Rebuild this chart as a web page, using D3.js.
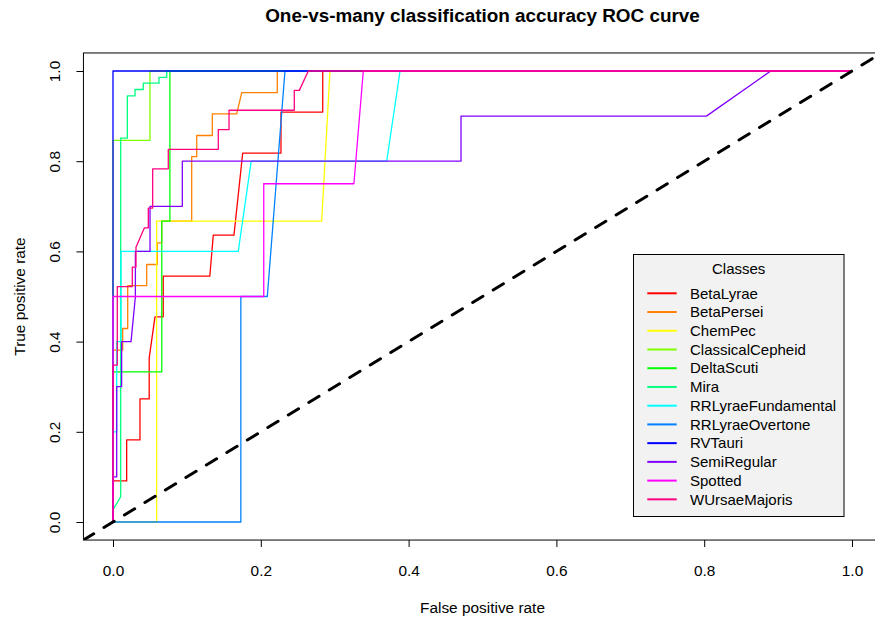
<!DOCTYPE html>
<html>
<head>
<meta charset="utf-8">
<script src="https://cdn.jsdelivr.net/npm/d3@7/dist/d3.min.js"></script>
<style>
  html, body { margin: 0; padding: 0; background: #fff; }
  svg { display: block; font-family: "Liberation Sans", Arial, sans-serif; }
</style>
</head>
<body>
<svg id="chart" width="875" height="618"></svg>
<script>
// Class names and their rainbow colours
const classNames = ["BetaLyrae", "BetaPersei", "ChemPec", "ClassicalCepheid", "DeltaScuti", "Mira",
  "RRLyraeFundamental", "RRLyraeOvertone", "RVTauri", "SemiRegular", "Spotted", "WUrsaeMajoris"];
const classColors = ["#FF0000", "#FF8000", "#FFFF00", "#80FF00", "#00FF00", "#00FF80",
  "#00FFFF", "#0080FF", "#0000FF", "#8000FF", "#FF00FF", "#FF0080"];

// ROC curve points (false positive rate, true positive rate) per class
const betaLyraeFpr = [0, 0, 0.0185, 0.0185, 0.0365, 0.0365, 0.049, 0.049, 0.0568, 0.068, 0.068, 0.131, 0.1357, 0.1637, 0.1755, 0.2273, 0.2273, 0.2838, 0.2838, 1];
const betaLyraeTpr = [0, 0.091, 0.091, 0.182, 0.182, 0.273, 0.273, 0.364, 0.455, 0.455, 0.545, 0.545, 0.636, 0.636, 0.818, 0.818, 0.909, 0.909, 1, 1];

const betaPerseiFpr = [0, 0, 0.0131, 0.0131, 0.0199, 0.0199, 0.0456, 0.0456, 0.0599, 0.0599, 0.0659, 0.0659, 0.1065, 0.1065, 0.1133, 0.1133, 0.1344, 0.1344, 0.1674, 0.1742, 0.2223, 0.2223, 1];
const betaPerseiTpr = [0, 0.381, 0.381, 0.429, 0.429, 0.524, 0.524, 0.571, 0.571, 0.619, 0.619, 0.667, 0.667, 0.81, 0.81, 0.857, 0.857, 0.905, 0.905, 0.952, 0.952, 1, 1];

const chemPecFpr = [0, 0.059, 0.059, 0.2824, 0.2936, 1];
const chemPecTpr = [0, 0, 0.667, 0.667, 1, 1];

const classicalCepheidFpr = [0, 0, 0.05, 0.05, 1];
const classicalCepheidTpr = [0, 0.846, 0.846, 1, 1];

const deltaScutiFpr = [0, 0, 0.066, 0.066, 0.077, 0.077, 1];
const deltaScutiTpr = [0, 0.333, 0.333, 0.667, 0.667, 1, 1];

const miraFpr = [0, 0, 0.0104, 0.0104, 0.0194, 0.0194, 0.0298, 0.0298, 0.041, 0.041, 0.0622, 0.0622, 0.0727, 0.0727, 1];
const miraTpr = [0, 0.027, 0.056, 0.851, 0.851, 0.945, 0.945, 0.959, 0.959, 0.973, 0.973, 0.986, 0.986, 1, 1];

const rrLyraeFundamentalFpr = [0, 0, 0.005, 0.005, 0.0108, 0.0108, 0.1695, 0.187, 0.3704, 0.3884, 1];
const rrLyraeFundamentalTpr = [0, 0.2, 0.2, 0.4, 0.4, 0.6, 0.6, 0.8, 0.8, 1, 1];

const rrLyraeOvertoneFpr = [0, 0.173, 0.173, 0.2088, 0.2327, 1];
const rrLyraeOvertoneTpr = [0, 0, 0.5, 0.5, 1, 1];

const rvTauriFpr = [0, 0, 1];
const rvTauriTpr = [0, 1, 1];

const semiRegularFpr = [0, 0, 0.005, 0.005, 0.0117, 0.0117, 0.0244, 0.0303, 0.0303, 0.0501, 0.0501, 0.0938, 0.0938, 0.4709, 0.4709, 0.803, 0.89, 1];
const semiRegularTpr = [0, 0.1, 0.1, 0.3, 0.3, 0.4, 0.4, 0.5, 0.6, 0.6, 0.7, 0.7, 0.8, 0.8, 0.9, 0.9, 1, 1];

const spottedFpr = [0, 0, 0.204, 0.204, 0.326, 0.3387, 1];
const spottedTpr = [0, 0.5, 0.5, 0.75, 0.75, 1, 1];

const wUrsaeMajorisFpr = [0, 0, 0.0058, 0.0058, 0.0261, 0.0261, 0.0311, 0.0311, 0.0424, 0.0478, 0.0478, 0.0537, 0.0537, 0.0748, 0.0748, 0.1425, 0.1425, 0.157, 0.157, 0.2453, 0.2453, 0.2521, 0.2643, 1];
const wUrsaeMajorisTpr = [0, 0.348, 0.348, 0.522, 0.522, 0.565, 0.565, 0.609, 0.652, 0.652, 0.696, 0.696, 0.783, 0.783, 0.826, 0.826, 0.87, 0.87, 0.913, 0.913, 0.957, 0.957, 1, 1];

// Axis ticks
const xTicks = [0, 0.2, 0.4, 0.6, 0.8, 1.0];
const yTicks = [0, 0.2, 0.4, 0.6, 0.8, 1.0];

const curveFpr = [betaLyraeFpr, betaPerseiFpr, chemPecFpr, classicalCepheidFpr, deltaScutiFpr, miraFpr,
  rrLyraeFundamentalFpr, rrLyraeOvertoneFpr, rvTauriFpr, semiRegularFpr, spottedFpr, wUrsaeMajorisFpr];
const curveTpr = [betaLyraeTpr, betaPerseiTpr, chemPecTpr, classicalCepheidTpr, deltaScutiTpr, miraTpr,
  rrLyraeFundamentalTpr, rrLyraeOvertoneTpr, rvTauriTpr, semiRegularTpr, spottedTpr, wUrsaeMajorisTpr];

const svg = d3.select("#chart");

// Plot region extends 4% past the data range on each side
const x = d3.scaleLinear().domain([-0.04, 1.04]).range([83.44, 881.56]);
const y = d3.scaleLinear().domain([-0.04, 1.04]).range([540.04, 52.96]);
const [x0, x1] = x.range();
const [y0, y1] = y.range();

svg.append("defs").append("clipPath").attr("id", "plotClip")
  .append("rect").attr("x", x0).attr("y", y1).attr("width", x1 - x0).attr("height", y0 - y1);

// Title
svg.append("text")
  .attr("x", (x0 + x1) / 2).attr("y", 21.5)
  .attr("text-anchor", "middle")
  .style("font-size", "18.9px").style("font-weight", "bold")
  .text("One-vs-many classification accuracy ROC curve");

// ROC curves
const line = d3.line().x(d => x(d[0])).y(d => y(d[1]));
const curves = svg.append("g").attr("clip-path", "url(#plotClip)");
classNames.forEach((name, i) => {
  const pts = curveFpr[i].map((f, k) => [f, curveTpr[i][k]]);
  curves.append("path")
    .datum(pts)
    .attr("d", line)
    .attr("fill", "none")
    .attr("stroke", classColors[i])
    .attr("stroke-width", 1.3)
    .attr("stroke-linejoin", "round");
});

// Chance diagonal
curves.append("line")
  .attr("x1", x(-0.04)).attr("y1", y(-0.04))
  .attr("x2", x(1.04)).attr("y2", y(1.04))
  .attr("stroke", "#000")
  .attr("stroke-width", 3)
  .attr("stroke-dasharray", "12,12")
  .attr("stroke-linecap", "round");

// Frame
svg.append("rect")
  .attr("x", x0).attr("y", y1).attr("width", x1 - x0).attr("height", y0 - y1)
  .attr("fill", "none").attr("stroke", "#000").attr("stroke-width", 1);

// X axis
const xAxis = svg.append("g").attr("transform", `translate(0,${y0})`)
  .call(d3.axisBottom(x).tickValues(xTicks).tickSize(7).tickFormat(d3.format(".1f")));
xAxis.select(".domain").remove();
xAxis.selectAll(".tick line").attr("stroke", "#000");
xAxis.selectAll(".tick text")
  .attr("y", 31).attr("dy", "0.35em")
  .attr("fill", "#000")
  .style("font-size", "15.4px").style("font-family", "Liberation Sans, Arial, sans-serif");

// Y axis, labels written parallel to the axis
const yAxis = svg.append("g").attr("transform", `translate(${x0},0)`)
  .call(d3.axisLeft(y).tickValues(yTicks).tickSize(7).tickFormat(d3.format(".1f")));
yAxis.select(".domain").remove();
yAxis.selectAll(".tick line").attr("stroke", "#000");
yAxis.selectAll(".tick text")
  .attr("transform", "rotate(-90)")
  .attr("x", 0).attr("y", -29).attr("dy", "0.35em")
  .attr("text-anchor", "middle")
  .attr("fill", "#000")
  .style("font-size", "15.4px").style("font-family", "Liberation Sans, Arial, sans-serif");

// Axis titles
svg.append("text")
  .attr("x", (x0 + x1) / 2).attr("y", 612.5)
  .attr("text-anchor", "middle")
  .style("font-size", "15.4px")
  .text("False positive rate");
svg.append("text")
  .attr("transform", `translate(20,${(y0 + y1) / 2}) rotate(-90)`)
  .attr("dy", "0.35em")
  .attr("text-anchor", "middle")
  .style("font-size", "15.4px")
  .text("True positive rate");

// Legend
const legend = svg.append("g");
legend.append("rect")
  .attr("x", 633.5).attr("y", 254.5).attr("width", 210.5).attr("height", 262)
  .attr("fill", "#F2F2F2").attr("stroke", "#000").attr("stroke-width", 1);
legend.append("text")
  .attr("x", 738.7).attr("y", 268.5).attr("dy", "0.35em")
  .attr("text-anchor", "middle")
  .style("font-size", "15px")
  .text("Classes");
const rowStep = 18.73;
classNames.forEach((name, i) => {
  const ry = 293.3 + i * rowStep;
  legend.append("line")
    .attr("x1", 647.3).attr("x2", 676.7).attr("y1", ry).attr("y2", ry)
    .attr("stroke", classColors[i]).attr("stroke-width", 2);
  legend.append("text")
    .attr("x", 690).attr("y", ry).attr("dy", "0.35em")
    .style("font-size", "15px")
    .text(name);
});
</script>
</body>
</html>
